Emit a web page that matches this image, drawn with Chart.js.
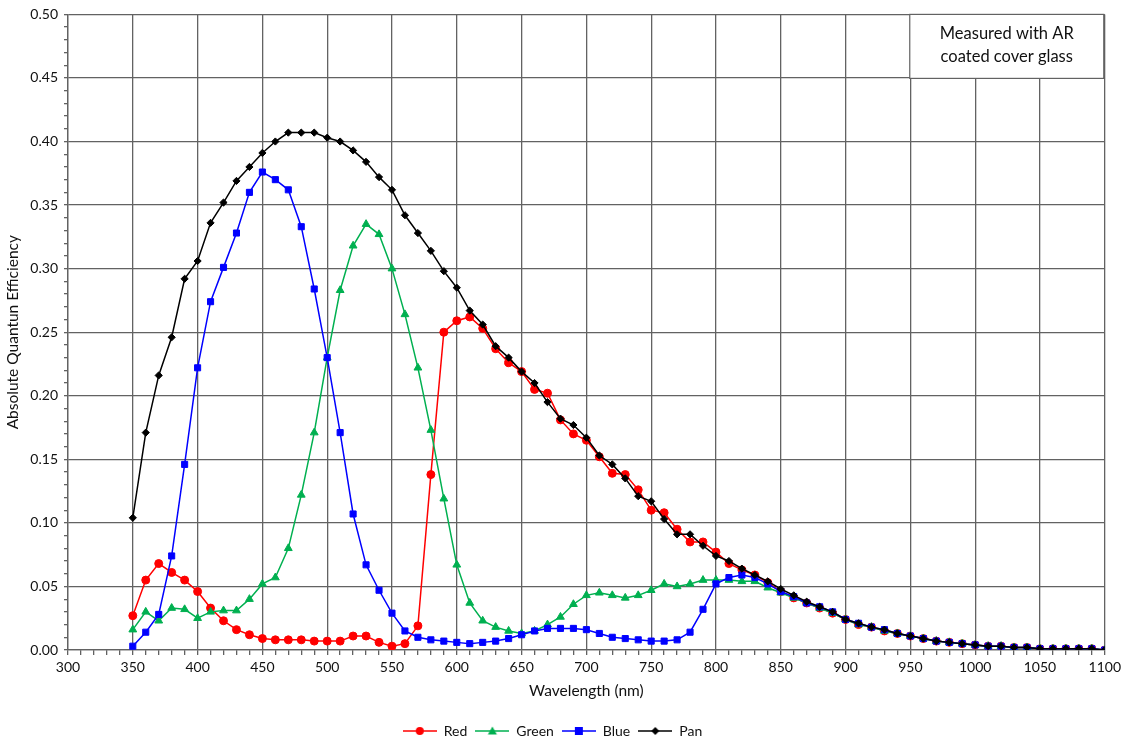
<!DOCTYPE html>
<html>
<head>
<meta charset="utf-8">
<script src="https://cdn.jsdelivr.net/npm/chart.js@4/dist/chart.umd.min.js"></script>
<style>
  html, body { margin: 0; padding: 0; background: #fff; }
  #wrap { width: 1125px; height: 748px; position: relative; }
</style>
</head>
<body>
<div id="wrap"><canvas id="c" width="1125" height="748"></canvas></div>
<script>
// ---- data ----
const wavelengths = [350,360,370,380,390,400,410,420,430,440,450,460,470,480,490,500,510,520,530,540,550,560,570,580,590,600,610,620,630,640,650,660,670,680,690,700,710,720,730,740,750,760,770,780,790,800,810,820,830,840,850,860,870,880,890,900,910,920,930,940,950,960,970,980,990,1000,1010,1020,1030,1040,1050,1060,1070,1080,1090,1100];

const redQE = [0.027,0.055,0.068,0.061,0.055,0.046,0.033,0.023,0.016,0.012,0.009,0.008,0.008,0.008,0.007,0.007,0.007,0.011,0.011,0.006,0.003,0.005,0.019,0.138,0.250,0.259,0.262,0.253,0.237,0.226,0.219,0.205,0.202,0.181,0.170,0.165,0.152,0.139,0.138,0.126,0.110,0.108,0.095,0.085,0.085,0.077,0.068,0.063,0.059,0.053,0.046,0.041,0.037,0.033,0.029,0.024,0.020,0.018,0.015,0.013,0.011,0.009,0.007,0.006,0.005,0.004,0.003,0.003,0.002,0.002,0.001,0.001,0.001,0.001,0.001,0.000];

const greenQE = [0.016,0.030,0.023,0.033,0.032,0.025,0.030,0.031,0.031,0.040,0.052,0.057,0.080,0.122,0.171,0.230,0.283,0.318,0.335,0.327,0.300,0.264,0.222,0.173,0.119,0.067,0.037,0.023,0.018,0.015,0.013,0.015,0.020,0.026,0.036,0.043,0.045,0.043,0.041,0.043,0.047,0.052,0.050,0.052,0.055,0.055,0.055,0.054,0.054,0.049,0.045,0.041,0.037,0.033,0.029,0.024,0.020,0.018,0.015,0.013,0.011,0.009,0.007,0.006,0.005,0.004,0.003,0.003,0.002,0.002,0.001,0.001,0.001,0.001,0.001,0.000];

const blueQE = [0.003,0.014,0.028,0.074,0.146,0.222,0.274,0.301,0.328,0.360,0.376,0.370,0.362,0.333,0.284,0.230,0.171,0.107,0.067,0.047,0.029,0.015,0.010,0.008,0.007,0.006,0.005,0.006,0.007,0.009,0.012,0.015,0.017,0.017,0.017,0.016,0.013,0.010,0.009,0.008,0.007,0.007,0.008,0.014,0.032,0.052,0.057,0.059,0.057,0.052,0.046,0.042,0.037,0.034,0.030,0.024,0.021,0.018,0.016,0.013,0.011,0.009,0.007,0.006,0.005,0.004,0.003,0.003,0.002,0.002,0.001,0.001,0.001,0.001,0.001,0.000];

const panQE = [0.104,0.171,0.216,0.246,0.292,0.306,0.336,0.352,0.369,0.380,0.391,0.400,0.407,0.407,0.407,0.403,0.400,0.393,0.384,0.372,0.362,0.342,0.328,0.314,0.298,0.285,0.267,0.256,0.239,0.230,0.219,0.210,0.195,0.182,0.177,0.167,0.153,0.146,0.135,0.121,0.117,0.103,0.091,0.091,0.082,0.074,0.070,0.064,0.059,0.054,0.048,0.043,0.038,0.034,0.030,0.024,0.021,0.018,0.016,0.013,0.011,0.009,0.007,0.006,0.005,0.004,0.003,0.003,0.002,0.002,0.001,0.001,0.001,0.001,0.001,0.000];

const seriesNames = ['Red','Green','Blue','Pan'];
const seriesColors = ['#ff0000','#00b050','#0000ff','#000000'];
const seriesStyles = ['circle','triangle','rect','rectRot'];
const seriesRadius = [4,4.5,4.3,3.6];
const annotationLines = ['Measured with AR','coated cover glass'];
const xTitle = 'Wavelength (nm)';
const yTitle = 'Absolute Quantun Efficiency';

const FONT = 'Lato, "Open Sans", sans-serif';
const GRID = '#626262';

function pts(ys){ return wavelengths.map((x,i)=>({x:x,y:ys[i]})); }
const allSeries = [redQE, greenQE, blueQE, panQE];

const datasets = allSeries.map((ys,i)=>({
  label: seriesNames[i],
  data: pts(ys),
  borderColor: seriesColors[i],
  backgroundColor: seriesColors[i],
  pointStyle: seriesStyles[i],
  pointRadius: seriesRadius[i],
  pointBorderWidth: 1,
  borderWidth: 1.5,
  order: 4 - i,
  tension: 0
}));

// legend icons: line through marker
const ICON_W = 34;
function legendIcon(i){
  const c = document.createElement('canvas');
  c.width = ICON_W; c.height = 12;
  const g = c.getContext('2d');
  g.strokeStyle = seriesColors[i]; g.fillStyle = seriesColors[i];
  g.lineWidth = 1.5;
  g.beginPath(); g.moveTo(0,6); g.lineTo(ICON_W,6); g.stroke();
  const cx = ICON_W/2, cy = 6;
  g.beginPath();
  if (seriesStyles[i]==='circle'){ g.arc(cx,cy,4,0,Math.PI*2); }
  else if (seriesStyles[i]==='triangle'){ g.moveTo(cx,cy-4.5); g.lineTo(cx+4.5,cy+3.5); g.lineTo(cx-4.5,cy+3.5); g.closePath(); }
  else if (seriesStyles[i]==='rect'){ g.rect(cx-4,cy-4,8,8); }
  else { g.moveTo(cx,cy-4); g.lineTo(cx+4,cy); g.lineTo(cx,cy+4); g.lineTo(cx-4,cy); g.closePath(); }
  g.fill();
  return c;
}
const icons = seriesNames.map((_,i)=>legendIcon(i));

const annotationPlugin = {
  id: 'annot',
  afterDatasetsDraw(chart){
    const {ctx, chartArea} = chart;
    const w = 194, h = 64;
    const x0 = chartArea.right - w - 1, y0 = chartArea.top;
    ctx.save();
    ctx.fillStyle = '#fff';
    ctx.fillRect(x0, y0, w, h);
    ctx.strokeStyle = GRID; ctx.lineWidth = 1.2;
    ctx.strokeRect(x0, y0, w, h);
    ctx.fillStyle = '#111';
    ctx.font = '16.5px ' + FONT;
    ctx.textAlign = 'center'; ctx.textBaseline = 'middle';
    ctx.fillText(annotationLines[0], x0 + w/2, y0 + 19);
    ctx.fillText(annotationLines[1], x0 + w/2, y0 + 42);
    ctx.restore();
  }
};

new Chart(document.getElementById('c'), {
  type: 'line',
  data: { datasets },
  options: {
    responsive: false,
    animation: false,
    layout: { padding: { top: 14, right: 20, left: 0, bottom: 0 } },
    plugins: {
      tooltip: { enabled: false },
      legend: {
        position: 'bottom',
        labels: {
          usePointStyle: true,
          pointStyleWidth: ICON_W,
          boxHeight: 12,
          padding: 8,
          color: '#111',
          font: { family: FONT, size: 14 },
          sort: (a,b) => a.datasetIndex - b.datasetIndex,
          generateLabels(chart){
            const items = Chart.defaults.plugins.legend.labels.generateLabels(chart);
            items.forEach(it => { it.pointStyle = icons[it.datasetIndex]; });
            return items;
          }
        }
      }
    },
    scales: {
      x: {
        type: 'linear',
        min: 300, max: 1100,
        afterFit(s){ s.height = 66; },
        ticks: {
          stepSize: 10,
          autoSkip: false,
          maxRotation: 0,
          color: '#111',
          font: { family: FONT, size: 14 },
          padding: 4,
          callback: v => (Math.round(v) % 50 === 0 ? String(Math.round(v)) : '')
        },
        grid: {
          color: c => (c.tick && Math.round(c.tick.value) % 50 === 0 ? GRID : 'rgba(0,0,0,0)'),
          tickColor: GRID,
          tickLength: 5,
          lineWidth: 1.3
        },
        border: { color: GRID, width: 1.3 },
        title: { display: true, text: xTitle, color: '#111', font: { family: FONT, size: 15.5 }, padding: { top: 2, bottom: 16 } }
      },
      y: {
        min: 0, max: 0.5,
        afterFit(s){ s.width = 68; },
        ticks: {
          stepSize: 0.01,
          autoSkip: false,
          color: '#111',
          font: { family: FONT, size: 14 },
          padding: 6,
          callback: v => (Math.round(v*100) % 5 === 0 ? v.toFixed(2) : '')
        },
        grid: {
          color: c => (c.tick && Math.round(c.tick.value*100) % 5 === 0 ? GRID : 'rgba(0,0,0,0)'),
          tickColor: GRID,
          tickLength: 4,
          lineWidth: 1.3
        },
        border: { color: GRID, width: 1.3 },
        title: { display: true, text: yTitle, color: '#111', font: { family: FONT, size: 15.5 }, padding: { bottom: 2 } }
      }
    }
  },
  plugins: [annotationPlugin]
});
</script>
</body>
</html>
